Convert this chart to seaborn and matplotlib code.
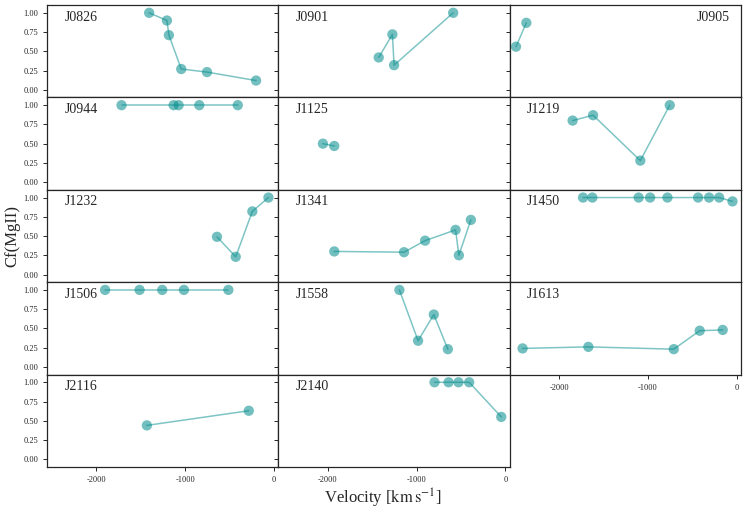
import numpy as np
import pandas as pd
import matplotlib
matplotlib.use('Agg')
import matplotlib.pyplot as plt
import seaborn as sns

# quasar names, in panel order
names = ['J0826', 'J0901', 'J0905', 'J0944', 'J1125', 'J1219', 'J1232',
         'J1341', 'J1450', 'J1506', 'J1558', 'J1613', 'J2116', 'J2140']

# velocity of each absorber [km/s]
vel = [
    [-1406, -1206, -1184, -1045, -755, -203],
    [-1426, -1272, -1253, -588],
    [-2484, -2368],
    [-1717, -1131, -1075, -842, -409],
    [-2054, -1926],
    [-1847, -1617, -1085, -754],
    [-643, -432, -245, -64],
    [-1926, -1141, -904, -561, -524, -389],
    [-1730, -1625, -1104, -975, -780, -435, -311, -198, -48],
    [-1902, -1514, -1259, -1015, -515],
    [-1193, -983, -806, -648],
    [-2410, -1670, -709, -417, -158],
    [-1432, -285],
    [-798, -640, -528, -408, -47],
]

# covering fraction of MgII
cf = [
    [1.00, 0.90, 0.71, 0.27, 0.23, 0.12],
    [0.42, 0.72, 0.32, 1.00],
    [0.56, 0.87],
    [1.00, 1.00, 1.00, 1.00, 1.00],
    [0.50, 0.47],
    [0.80, 0.87, 0.28, 1.00],
    [0.49, 0.23, 0.82, 1.00],
    [0.30, 0.29, 0.44, 0.58, 0.25, 0.71],
    [1.00, 1.00, 1.00, 1.00, 1.00, 1.00, 1.00, 1.00, 0.95],
    [1.00, 1.00, 1.00, 1.00, 1.00],
    [1.00, 0.34, 0.68, 0.23],
    [0.24, 0.26, 0.23, 0.47, 0.48],
    [0.44, 0.63],
    [1.00, 1.00, 1.00, 1.00, 0.55],
]

rows = []
for n, v, c in zip(names, vel, cf):
    for i in range(len(v)):
        rows.append({'name': n, 'v': v[i], 'cf': c[i], 'order': i})
df = pd.DataFrame(rows)

sns.set_style('ticks')
plt.rcParams['font.family'] = ['Liberation Serif', 'DejaVu Serif']
plt.rcParams['mathtext.fontset'] = 'stix'
plt.rcParams['axes.unicode_minus'] = False

col = 'darkcyan'

fig, axes = plt.subplots(5, 3, figsize=(7.47, 5.12), dpi=100, sharex=True, sharey=True)
plt.subplots_adjust(left=0.063, right=0.992, top=0.990, bottom=0.088, wspace=0, hspace=0)

for k, n in enumerate(names):
    ax = axes.flat[k]
    d = df[df['name'] == n]
    sns.lineplot(data=d, x='v', y='cf', sort=False, ax=ax, color=col,
                 alpha=0.5, lw=1.1, estimator=None)
    sns.scatterplot(data=d, x='v', y='cf', ax=ax, color=col, alpha=0.55,
                    s=55, edgecolor='none', zorder=3)
    if n == 'J0905':
        ax.text(0.95, 0.87, n, transform=ax.transAxes, fontsize=10,
                ha='right', va='center')
    else:
        ax.text(0.075, 0.87, n, transform=ax.transAxes, fontsize=10,
                ha='left', va='center')
    ax.set_xlabel('')
    ax.set_ylabel('')

axes[4, 2].remove()
axes[3, 2].xaxis.set_tick_params(labelbottom=True)

for ax in axes.flat[:14]:
    ax.set_xlim(-2555, 48)
    ax.set_ylim(-0.1, 1.1)
    ax.set_xticks([-2000, -1000, 0])
    ax.set_yticks([0, 0.25, 0.5, 0.75, 1.0])
    ax.yaxis.set_major_formatter(matplotlib.ticker.FormatStrFormatter('%.2f'))
    ax.tick_params(labelsize=6, length=3, width=0.7)
    for s in ax.spines.values():
        s.set_linewidth(0.9)
        s.set_visible(True)

fig.text(0.016, 0.539, 'Cf(MgII)', rotation=90, ha='center', va='center', fontsize=12)
fig.text(0.512, 0.027, r'Velocity [$\mathrm{km\,s^{-1}}$]', ha='center', va='center', fontsize=12)

plt.savefig('out.png', dpi=100)
